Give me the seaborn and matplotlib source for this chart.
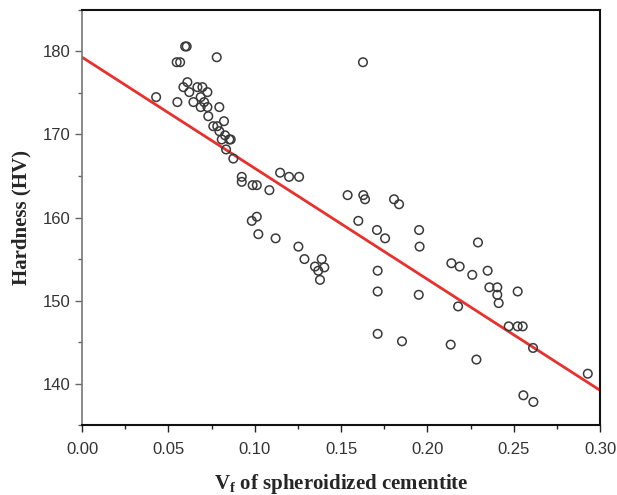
import matplotlib
matplotlib.use("Agg")
import matplotlib.pyplot as plt
import seaborn as sns
import numpy as np
import pandas as pd
from matplotlib.ticker import MultipleLocator

# volume fraction of spheroidized cementite vs hardness
vf = [0.0429, 0.0597, 0.0606, 0.0548, 0.0568, 0.0780, 0.0610, 0.0587, 0.0621,
      0.0668, 0.0697, 0.0726, 0.0687, 0.0552, 0.0645, 0.0707, 0.0687, 0.0726,
      0.0795, 0.0731, 0.0822, 0.0760, 0.0783, 0.0795, 0.0828, 0.0809, 0.0853,
      0.0861, 0.0834, 0.0876, 0.0925, 0.0925, 0.0988, 0.1012, 0.1085,
      0.1147, 0.1199, 0.1257, 0.1012, 0.0983, 0.1021, 0.1121, 0.1253, 0.1288,
      0.1388, 0.1349, 0.1403, 0.1368, 0.1378, 0.1538, 0.1629, 0.1639, 0.1807,
      0.1836, 0.1600, 0.1708, 0.1755, 0.1952, 0.1955, 0.1712, 0.1712, 0.1950,
      0.1712, 0.1853, 0.2293, 0.2139, 0.2187, 0.2260, 0.2349, 0.2359, 0.2405,
      0.2405, 0.2413, 0.2523, 0.2178, 0.2471, 0.2523, 0.2552, 0.2612, 0.2135,
      0.2284, 0.2929, 0.2556, 0.2614, 0.1627]
hv = [174.5, 180.6, 180.6, 178.7, 178.7, 179.3, 176.3, 175.7, 175.1,
      175.7, 175.7, 175.1, 174.5, 173.9, 173.9, 173.9, 173.3, 173.3,
      173.3, 172.2, 171.6, 171.0, 171.0, 170.4, 169.9, 169.4, 169.4,
      169.4, 168.2, 167.1, 164.9, 164.3, 163.9, 163.9, 163.3,
      165.4, 164.9, 164.9, 160.1, 159.6, 158.0, 157.5, 156.5, 155.0,
      155.0, 154.1, 154.0, 153.6, 152.5, 162.7, 162.7, 162.2, 162.2,
      161.6, 159.6, 158.5, 157.5, 158.5, 156.5, 153.6, 151.1, 150.7,
      146.0, 145.1, 157.0, 154.5, 154.1, 153.1, 153.6, 151.6, 151.6,
      150.7, 149.7, 151.1, 149.3, 146.9, 146.9, 146.9, 144.3, 144.7,
      142.9, 141.2, 138.6, 137.8, 178.7]

# linear fit as drawn in the figure
fit_vf = [0.0, 0.30]
fit_hv = [179.3, 139.2]

df = pd.DataFrame({"vf": vf, "hv": hv})
df_fit = pd.DataFrame({"vf": fit_vf, "hv": fit_hv})

sns.set_style("ticks")
plt.rcParams['font.family'] = ['Liberation Sans', 'DejaVu Sans']
plt.rcParams['mathtext.fontset'] = 'custom'
plt.rcParams['mathtext.rm'] = 'Liberation Serif:bold'
plt.rcParams['mathtext.bf'] = 'Liberation Serif:bold'

fig = plt.figure(figsize=(6.17, 4.95), dpi=100)
ax = fig.add_axes([0.133, 0.141, 0.8395, 0.839])

sns.scatterplot(data=df, x="vf", y="hv", ax=ax, marker="o", s=38,
                facecolor="none", edgecolor="#3a3a3a", linewidth=1.1, zorder=3)
sns.lineplot(data=df_fit, x="vf", y="hv", ax=ax, color="#e8302e",
             linewidth=2.0, zorder=2)

ax.set_xlim(0, 0.30)
ax.set_ylim(135, 185)
ax.xaxis.set_major_locator(MultipleLocator(0.05))
ax.xaxis.set_minor_locator(MultipleLocator(0.025))
ax.yaxis.set_major_locator(MultipleLocator(10))
ax.yaxis.set_minor_locator(MultipleLocator(5))
ax.set_xticklabels([f"{v:.2f}" for v in ax.get_xticks()])

ax.tick_params(which="both", direction="out", labelcolor="#333333", labelsize=12)
ax.tick_params(axis="y", which="both", color="#666666")
ax.tick_params(axis="x", which="both", color="#222222", pad=7)
ax.tick_params(which="major", length=5, width=1)
ax.tick_params(which="minor", length=3, width=1)

ax.spines["left"].set_color("#777777")
ax.spines["left"].set_linewidth(1.2)
for side in ["top", "right", "bottom"]:
    ax.spines[side].set_color("#111111")
    ax.spines[side].set_linewidth(1.5)

ax.set_xlabel(r"$\mathbf{V_f}$ of spheroidized cementite", family="Liberation Serif",
              fontweight="bold", fontsize=15, labelpad=11)
ax.set_ylabel("Hardness (HV)", family="Liberation Serif", fontweight="bold",
              fontsize=15, labelpad=8)

fig.savefig("out.png", dpi=100)
